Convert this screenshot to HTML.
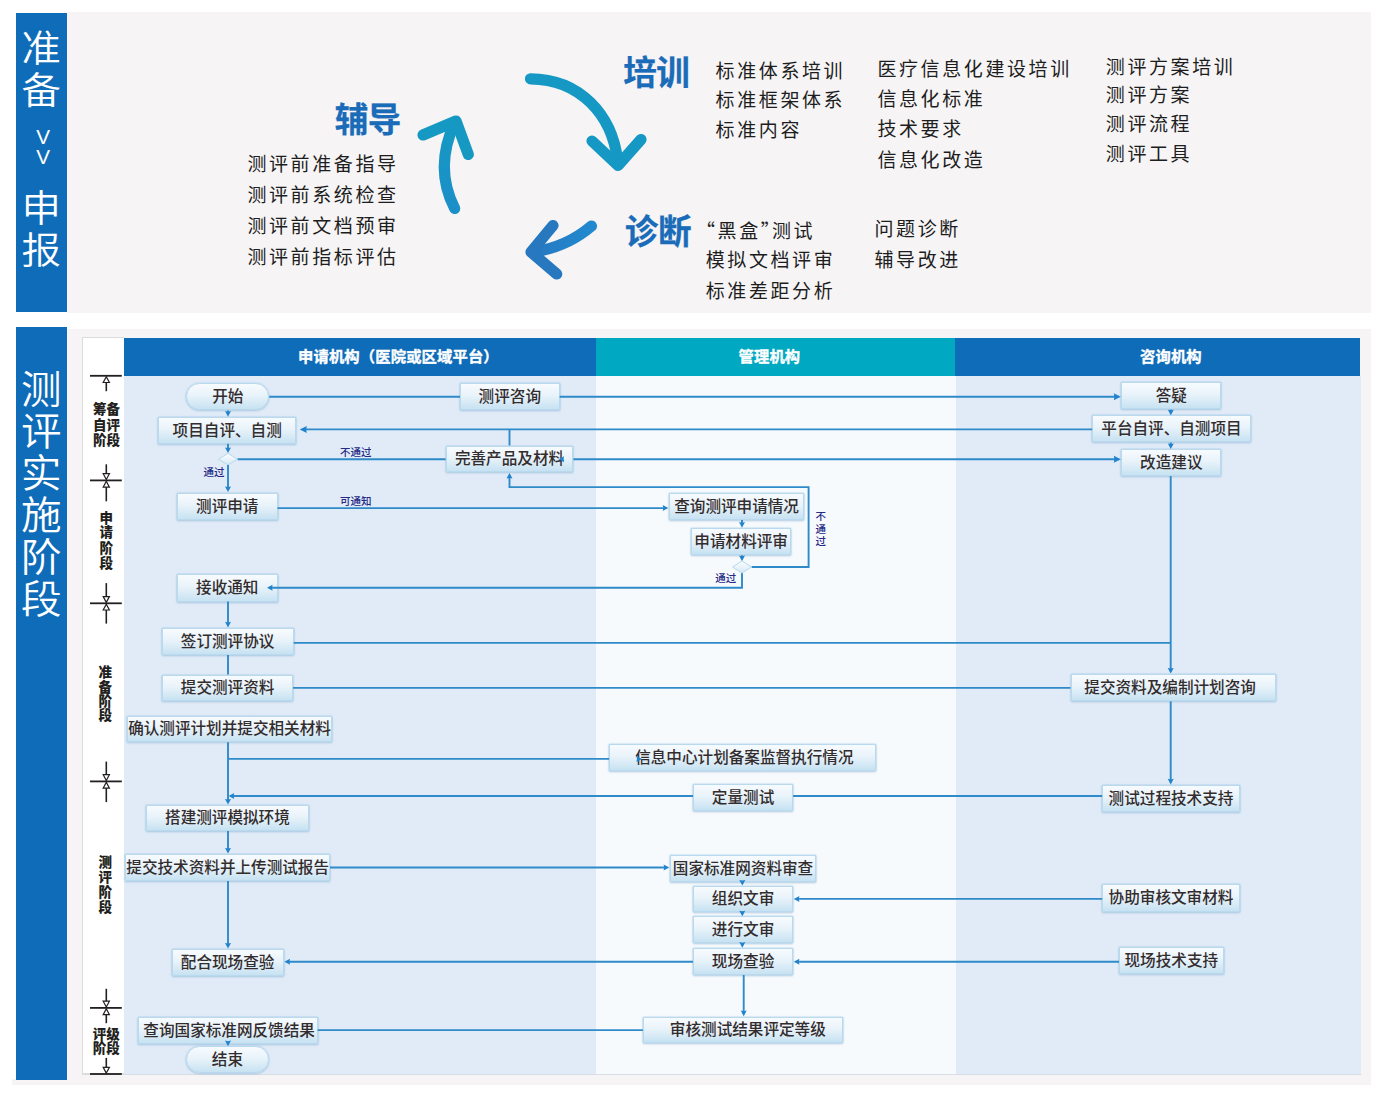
<!DOCTYPE html>
<html lang="zh"><head><meta charset="utf-8"><title>测评实施阶段</title>
<style>
html,body{margin:0;padding:0;background:#fff;}
body{width:1390px;height:1111px;position:relative;overflow:hidden;font-family:"Liberation Sans","Noto Sans CJK SC",sans-serif;color:#332c2d;}
.abs{position:absolute;}
.side{position:absolute;left:16px;width:50.5px;background:#0f6cb9;color:#fff;font-weight:350;text-align:center;}
.side span{position:absolute;left:0;width:50.5px;text-align:center;font-size:39px;line-height:40px;transform:scaleX(1.06);}
.panel{position:absolute;left:66.5px;width:1304.5px;background:#f6f4f5;}
.h{position:absolute;font-weight:700;font-size:33.6px;line-height:34px;color:#1a6cb8;white-space:nowrap;letter-spacing:-0.4px;-webkit-text-stroke:0.25px #1a6cb8;}
.t{position:absolute;margin-top:0.8px;font-size:19px;line-height:20px;letter-spacing:2.6px;white-space:nowrap;font-weight:400;color:#1d1d1d;}
.lanehd{position:absolute;top:337.5px;height:38.3px;}
.lt{position:absolute;top:346.3px;color:#fff;font-weight:700;font-size:15.3px;line-height:22px;white-space:nowrap;-webkit-text-stroke:0.35px #fff;letter-spacing:0.15px;}
.lane{position:absolute;top:375.8px;height:697.8px;}
.n{position:absolute;box-sizing:border-box;border:1px solid #b9daee;background:linear-gradient(180deg,#f7fbfe 0%,#e9f3fa 45%,#c7e2f2 100%);box-shadow:0 0 1.5px rgba(150,195,225,.9),0 1px 2px rgba(120,160,200,.4);font-size:15.6px;font-weight:500;text-align:center;white-space:nowrap;color:#332c2d;display:flex;align-items:center;justify-content:center;padding-bottom:3.2px;}
.n.pill{border-radius:14px;}
.ph{position:absolute;font-weight:900;font-size:13.5px;color:#231f20;text-align:center;white-space:nowrap;}
.sm{position:absolute;font-size:10.5px;font-weight:500;line-height:12px;color:#262a86;white-space:nowrap;}
svg{position:absolute;left:0;top:0;}
</style></head><body>

<div class="panel" style="top:12px;height:300.6px;"></div>
<div class="side" style="top:13px;height:299px;">
<span style="top:15.5px;font-size:37.2px">准</span>
<span style="top:57.5px;font-size:37.2px">备</span>
<span style="top:176px;font-size:37.2px">申</span>
<span style="top:218px;font-size:37.2px">报</span>
<span style="top:113.5px;left:2px;font-size:19.5px;line-height:20px;font-weight:400">V</span><span style="top:133.5px;left:2px;font-size:19.5px;line-height:20px;font-weight:400">V</span>
</div>
<div class="h" style="left:334.7px;top:103.6px;">辅导</div>
<div class="h" style="left:623.2px;top:56.6px;">培训</div>
<div class="h" style="left:624.8px;top:216px;">诊断</div>
<div class="t" style="left:247.4px;top:154.2px;">测评前准备指导</div>
<div class="t" style="left:247.4px;top:185.5px;">测评前系统检查</div>
<div class="t" style="left:247.4px;top:216.3px;">测评前文档预审</div>
<div class="t" style="left:247.4px;top:247.2px;">测评前指标评估</div>
<div class="t" style="left:715.6px;top:61.2px;">标准体系培训</div>
<div class="t" style="left:715.6px;top:90.5px;">标准框架体系</div>
<div class="t" style="left:715.6px;top:120.6px;">标准内容</div>
<div class="t" style="left:877.4px;top:59.3px;">医疗信息化建设培训</div>
<div class="t" style="left:877.4px;top:89.6px;">信息化标准</div>
<div class="t" style="left:877.4px;top:119.4px;">技术要求</div>
<div class="t" style="left:877.4px;top:149.9px;">信息化改造</div>
<div class="t" style="left:1105.8px;top:57.3px;">测评方案培训</div>
<div class="t" style="left:1105.8px;top:85.7px;">测评方案</div>
<div class="t" style="left:1105.8px;top:114.7px;">测评流程</div>
<div class="t" style="left:1105.8px;top:144.7px;">测评工具</div>
<div class="t" style="left:696px;top:218.8px;font-family:'Noto Sans CJK SC',sans-serif;">“黑盒<span style="margin-right:-10.5px">”</span>测试</div>
<div class="t" style="left:705.7px;top:250.6px;">模拟文档评审</div>
<div class="t" style="left:705.7px;top:281.2px;">标准差距分析</div>
<div class="t" style="left:874.5px;top:218.8px;">问题诊断</div>
<div class="t" style="left:874.5px;top:250.6px;">辅导改进</div>
<svg width="1390" height="330" viewBox="0 0 1390 330">
<defs>
<linearGradient id="g2" x1="0" y1="0" x2="0" y2="1"><stop offset="0" stop-color="#1599c3"/><stop offset="1" stop-color="#1c8fc8"/></linearGradient>
<linearGradient id="g3" x1="1" y1="0" x2="0" y2="0"><stop offset="0" stop-color="#2189cf"/><stop offset="1" stop-color="#2878c0"/></linearGradient>
</defs>
<g fill="none" stroke-linecap="round" stroke-linejoin="round" stroke-width="11.2">
<path d="M530.5,78.8 C580,79 612,115 617.5,160" stroke="#1598c4"/>
<path d="M592,141 L618,165.5 L641,139.5" stroke="#1598c4"/>
<path d="M454.7,208.5 C440,180 442,150 455,122" stroke="url(#g2)"/>
<path d="M423,135 L456,121 L468.3,154.5" stroke="#1599c3"/>
<path d="M591.5,226 C575,240 555,249 533,252" stroke="url(#g3)"/>
<path d="M553,225.5 L531,252 L556.7,274" stroke="#2878c0"/>
</g></svg>
<div class="panel" style="top:329px;height:756px;"></div><div class="abs" style="left:12px;top:1079px;width:56px;height:6px;background:#f6f4f5;"></div>
<div class="side" style="top:327px;height:753px;">
<span style="top:43.3px;font-size:38.3px">测</span>
<span style="top:85.2px;font-size:38.3px">评</span>
<span style="top:127.1px;font-size:38.3px">实</span>
<span style="top:169px;font-size:38.3px">施</span>
<span style="top:210.9px;font-size:38.3px">阶</span>
<span style="top:252.8px;font-size:38.3px">段</span>
</div>
<div class="abs" style="left:82px;top:337px;width:42px;height:737px;background:#fff;border:1px solid #dcdcdc;border-right:none;box-sizing:border-box;"></div>
<div class="lanehd" style="left:124px;width:471.5px;background:#0f6cb9;"></div><div class="lt" style="left:298px;">申请机构（医院或区域平台）</div>
<div class="lanehd" style="left:595.5px;width:359.5px;background:#00a9c1;"></div>
<div class="lanehd" style="left:955px;width:405px;background:#0f6cb9;"></div><div class="lt" style="left:738.5px;">管理机构</div><div class="lt" style="left:1140px;">咨询机构</div>
<div class="lane" style="left:124px;width:471.5px;background:#e0ebf7;"></div>
<div class="lane" style="left:595.5px;width:360.5px;background:#f6fafd;"></div>
<div class="lane" style="left:956px;width:404.5px;background:#e0ebf7;"></div>
<div class="abs" style="left:82px;top:1073.5px;width:1278.5px;height:1px;background:#d6dde5;"></div>
<div class="ph" style="left:86.4px;top:403.4px;width:40px;line-height:14px;">筹备</div>
<div class="ph" style="left:86.4px;top:418.8px;width:40px;line-height:14px;">自评</div>
<div class="ph" style="left:86.4px;top:434.2px;width:40px;line-height:14px;">阶段</div>
<div class="ph" style="left:86.3px;top:511.5px;width:40px;line-height:14px;">申</div>
<div class="ph" style="left:86.3px;top:526.4px;width:40px;line-height:14px;">请</div>
<div class="ph" style="left:86.3px;top:541.6px;width:40px;line-height:14px;">阶</div>
<div class="ph" style="left:86.3px;top:556.6px;width:40px;line-height:14px;">段</div>
<div class="ph" style="left:85.2px;top:666.1px;width:40px;line-height:14px;">准</div>
<div class="ph" style="left:85.2px;top:680.5px;width:40px;line-height:14px;">备</div>
<div class="ph" style="left:85.2px;top:694.9px;width:40px;line-height:14px;">阶</div>
<div class="ph" style="left:85.2px;top:709.4px;width:40px;line-height:14px;">段</div>
<div class="ph" style="left:85.2px;top:856.2px;width:40px;line-height:14px;">测</div>
<div class="ph" style="left:85.2px;top:871px;width:40px;line-height:14px;">评</div>
<div class="ph" style="left:85.2px;top:885.6px;width:40px;line-height:14px;">阶</div>
<div class="ph" style="left:85.2px;top:901.1px;width:40px;line-height:14px;">段</div>
<div class="ph" style="left:86.3px;top:1028.1px;width:40px;line-height:14px;">评级</div>
<div class="ph" style="left:86.3px;top:1042.4px;width:40px;line-height:14px;">阶段</div>
<div class="n pill" style="left:186.3px;top:383.3px;width:82.9px;height:27.2px;">开始</div>
<div class="n" style="left:460.0px;top:383.3px;width:99.6px;height:27.2px;">测评咨询</div>
<div class="n" style="left:158.0px;top:416.7px;width:138.4px;height:27.1px;">项目自评、自测</div>
<div class="n" style="left:445.6px;top:445.5px;width:127.8px;height:26.9px;">完善产品及材料</div>
<div class="n" style="left:177.0px;top:492.5px;width:100.5px;height:27.6px;">测评申请</div>
<div class="n" style="left:177.0px;top:574.3px;width:100.5px;height:27.3px;">接收通知</div>
<div class="n" style="left:161.5px;top:627.6px;width:132.2px;height:27.3px;">签订测评协议</div>
<div class="n" style="left:162.2px;top:674.6px;width:130.8px;height:26.9px;">提交测评资料</div>
<div class="n" style="left:126.6px;top:715.7px;width:205.8px;height:26.6px;">确认测评计划并提交相关材料</div>
<div class="n" style="left:145.6px;top:804.8px;width:163.7px;height:26.2px;">搭建测评模拟环境</div>
<div class="n" style="left:125.4px;top:853.8px;width:204.6px;height:27.3px;">提交技术资料并上传测试报告</div>
<div class="n" style="left:171.5px;top:948.8px;width:112.2px;height:27.6px;">配合现场查验</div>
<div class="n" style="left:137.7px;top:1016.8px;width:179.9px;height:26.9px;padding-left:3px;">查询国家标准网反馈结果</div>
<div class="n pill" style="left:185.7px;top:1046.2px;width:83.5px;height:27.2px;">结束</div>
<div class="n" style="left:669.1px;top:492.5px;width:135.0px;height:27.6px;">查询测评申请情况</div>
<div class="n" style="left:690.9px;top:527.7px;width:100.5px;height:27.6px;">申请材料评审</div>
<div class="n" style="left:609.1px;top:744.4px;width:266.5px;height:26.9px;padding-left:4px;">信息中心计划备案监督执行情况</div>
<div class="n" style="left:693.0px;top:783.7px;width:100.1px;height:27.3px;">定量测试</div>
<div class="n" style="left:669.8px;top:854.5px;width:146.4px;height:27.6px;">国家标准网资料审查</div>
<div class="n" style="left:693.0px;top:885.6px;width:100.1px;height:26.9px;">组织文审</div>
<div class="n" style="left:693.0px;top:916.3px;width:100.1px;height:27.0px;">进行文审</div>
<div class="n" style="left:693.0px;top:947.7px;width:100.1px;height:27.3px;">现场查验</div>
<div class="n" style="left:642.9px;top:1016.5px;width:199.9px;height:26.9px;padding-left:10px;">审核测试结果评定等级</div>
<div class="n" style="left:1121.3px;top:382.3px;width:100.0px;height:27.2px;">答疑</div>
<div class="n" style="left:1092.2px;top:415.3px;width:158.6px;height:27.2px;">平台自评、自测项目</div>
<div class="n" style="left:1121.3px;top:449.0px;width:100.0px;height:27.1px;">改造建议</div>
<div class="n" style="left:1070.5px;top:673.8px;width:205.2px;height:27.6px;padding-right:6px;">提交资料及编制计划咨询</div>
<div class="n" style="left:1102.2px;top:784.6px;width:137.6px;height:27.5px;">测试过程技术支持</div>
<div class="n" style="left:1102.2px;top:884.4px;width:137.6px;height:27.2px;">协助审核文审材料</div>
<div class="n" style="left:1119.0px;top:947.2px;width:104.6px;height:27.2px;">现场技术支持</div>
<div class="sm" style="left:340px;top:445.5px;">不通过</div>
<div class="sm" style="left:203.5px;top:466.3px;">通过</div>
<div class="sm" style="left:340px;top:495px;">可通知</div>
<div class="sm" style="left:715.3px;top:572.1px;">通过</div>
<div class="sm" style="left:815.5px;top:510.3px;line-height:12.6px;width:11px;white-space:normal;">不通过</div>
<svg width="1390" height="1111" viewBox="0 0 1390 1111"><defs><linearGradient id="dg" x1="0" y1="0" x2="0" y2="1"><stop offset="0" stop-color="#ffffff"/><stop offset="1" stop-color="#d3e8f5"/></linearGradient></defs>
<polyline points="269.2,396.7 460.0,396.7" fill="none" stroke="#2e8ac8" stroke-width="1.9"/>
<polyline points="559.6,396.7 1118.8,396.7" fill="none" stroke="#2e8ac8" stroke-width="1.9"/>
<polygon points="1120.8,396.7 1113.8,393.2 1114.4,396.7 1113.8,400.2" fill="#2283cd"/>
<polyline points="1092.2,429.4 301.8,429.4" fill="none" stroke="#2e8ac8" stroke-width="1.9"/>
<polygon points="299.8,429.4 306.8,425.9 306.2,429.4 306.8,432.9" fill="#2283cd"/>
<polyline points="509.5,429.4 509.5,445.5" fill="none" stroke="#2e8ac8" stroke-width="1.9"/>
<polyline points="237.4,459.3 445.6,459.3" fill="none" stroke="#2e8ac8" stroke-width="1.9"/>
<polyline points="573.4,459.3 1118.8,459.3" fill="none" stroke="#2e8ac8" stroke-width="1.9"/>
<polygon points="1120.8,459.3 1113.8,455.8 1114.4,459.3 1113.8,462.8" fill="#2283cd"/>
<polyline points="228.0,464.0 228.0,490.0" fill="none" stroke="#2e8ac8" stroke-width="1.9"/>
<polygon points="228.0,492.0 225.0,486.4 228.0,487.0 231.0,486.4" fill="#2283cd"/>
<polyline points="277.5,508.1 666.3,508.1" fill="none" stroke="#2e8ac8" stroke-width="1.9"/>
<polygon points="668.3,508.1 662.7,505.1 663.3,508.1 662.7,511.1" fill="#2283cd"/>
<polyline points="751.6,567.0 808.6,567.0 808.6,487.1 509.5,487.1 509.5,475.0" fill="none" stroke="#2e8ac8" stroke-width="1.9"/>
<polygon points="509.5,473.0 506.5,478.6 509.5,478.0 512.5,478.6" fill="#2283cd"/>
<polyline points="742.0,520.1 742.0,525.7" fill="none" stroke="#2e8ac8" stroke-width="1.9"/>
<polygon points="742.0,527.7 739.0,522.1 742.0,522.7 745.0,522.1" fill="#2283cd"/>
<polyline points="742.0,555.3 742.0,559.2" fill="none" stroke="#2e8ac8" stroke-width="1.9"/>
<polygon points="742.0,561.2 739.0,555.6 742.0,556.2 745.0,555.6" fill="#2283cd"/>
<polyline points="742.0,573.0 742.0,587.8 269.0,587.8" fill="none" stroke="#2e8ac8" stroke-width="1.9"/>
<polygon points="267.0,587.8 272.6,584.8 272.0,587.8 272.6,590.8" fill="#2283cd"/>
<polyline points="228.0,601.6 228.0,625.4" fill="none" stroke="#2e8ac8" stroke-width="1.9"/>
<polygon points="228.0,627.4 225.0,621.8 228.0,622.4 231.0,621.8" fill="#2283cd"/>
<polyline points="228.0,654.9 228.0,674.6" fill="none" stroke="#2e8ac8" stroke-width="1.9"/>
<polyline points="293.7,642.9 1170.7,642.9" fill="none" stroke="#2e8ac8" stroke-width="1.9"/>
<polyline points="293.0,687.9 1070.5,687.9" fill="none" stroke="#2e8ac8" stroke-width="1.9"/>
<polyline points="1170.7,476.1 1170.7,671.6" fill="none" stroke="#2e8ac8" stroke-width="1.9"/>
<polygon points="1170.7,673.6 1167.7,668.0 1170.7,668.6 1173.7,668.0" fill="#2283cd"/>
<polyline points="1170.7,701.4 1170.7,782.4" fill="none" stroke="#2e8ac8" stroke-width="1.9"/>
<polygon points="1170.7,784.4 1167.7,778.8 1170.7,779.4 1173.7,778.8" fill="#2283cd"/>
<polyline points="228.0,742.3 228.0,802.6" fill="none" stroke="#2e8ac8" stroke-width="1.9"/>
<polygon points="228.0,804.6 225.0,799.0 228.0,799.6 231.0,799.0" fill="#2283cd"/>
<polyline points="228.0,758.9 609.1,758.9" fill="none" stroke="#2e8ac8" stroke-width="1.9"/>
<polyline points="1102.2,796.0 793.1,796.0" fill="none" stroke="#2e8ac8" stroke-width="1.9"/>
<polyline points="693.0,796.0 230.6,796.0" fill="none" stroke="#2e8ac8" stroke-width="1.9"/>
<polygon points="228.6,796.0 234.2,793.0 233.6,796.0 234.2,799.0" fill="#2283cd"/>
<polyline points="228.0,831.0 228.0,851.6" fill="none" stroke="#2e8ac8" stroke-width="1.9"/>
<polygon points="228.0,853.6 225.0,848.0 228.0,848.6 231.0,848.0" fill="#2283cd"/>
<polyline points="330.0,867.5 667.2,867.5" fill="none" stroke="#2e8ac8" stroke-width="1.9"/>
<polygon points="669.2,867.5 663.6,864.5 664.2,867.5 663.6,870.5" fill="#2283cd"/>
<polyline points="228.0,881.1 228.0,946.6" fill="none" stroke="#2e8ac8" stroke-width="1.9"/>
<polygon points="228.0,948.6 225.0,943.0 228.0,943.6 231.0,943.0" fill="#2283cd"/>
<polyline points="1102.2,898.9 795.8,898.9" fill="none" stroke="#2e8ac8" stroke-width="1.9"/>
<polygon points="793.8,898.9 799.4,895.9 798.8,898.9 799.4,901.9" fill="#2283cd"/>
<polyline points="1119.0,961.7 795.8,961.7" fill="none" stroke="#2e8ac8" stroke-width="1.9"/>
<polygon points="793.8,961.7 799.4,958.7 798.8,961.7 799.4,964.7" fill="#2283cd"/>
<polyline points="693.0,961.7 286.4,961.7" fill="none" stroke="#2e8ac8" stroke-width="1.9"/>
<polygon points="284.4,961.7 290.0,958.7 289.4,961.7 290.0,964.7" fill="#2283cd"/>
<polyline points="742.3,882.1 742.3,883.6" fill="none" stroke="#2e8ac8" stroke-width="1.9"/>
<polygon points="742.3,885.6 739.3,880.0 742.3,880.6 745.3,880.0" fill="#2283cd"/>
<polyline points="742.3,912.5 742.3,914.3" fill="none" stroke="#2e8ac8" stroke-width="1.9"/>
<polygon points="742.3,916.3 739.3,910.7 742.3,911.3 745.3,910.7" fill="#2283cd"/>
<polyline points="742.3,943.3 742.3,945.7" fill="none" stroke="#2e8ac8" stroke-width="1.9"/>
<polygon points="742.3,947.7 739.3,942.1 742.3,942.7 745.3,942.1" fill="#2283cd"/>
<polyline points="743.7,975.0 743.7,1014.2" fill="none" stroke="#2e8ac8" stroke-width="1.9"/>
<polygon points="743.7,1016.2 740.7,1010.6 743.7,1011.2 746.7,1010.6" fill="#2283cd"/>
<polyline points="642.9,1030.1 317.6,1030.1" fill="none" stroke="#2e8ac8" stroke-width="1.9"/>
<polyline points="228.0,1043.7 228.0,1044.2" fill="none" stroke="#2e8ac8" stroke-width="1.9"/>
<polygon points="228.0,1046.2 225.0,1040.6 228.0,1041.2 231.0,1040.6" fill="#2283cd"/>
<polyline points="1170.8,409.5 1170.8,413.3" fill="none" stroke="#2e8ac8" stroke-width="1.9"/>
<polygon points="1170.8,415.3 1167.8,409.7 1170.8,410.3 1173.8,409.7" fill="#2283cd"/>
<polyline points="1170.8,442.5 1170.8,447.0" fill="none" stroke="#2e8ac8" stroke-width="1.9"/>
<polygon points="1170.8,449.0 1167.8,443.4 1170.8,444.0 1173.8,443.4" fill="#2283cd"/>
<polyline points="228.0,410.5 228.0,414.7" fill="none" stroke="#2e8ac8" stroke-width="1.9"/>
<polygon points="228.0,416.7 225.0,411.1 228.0,411.7 231.0,411.1" fill="#2283cd"/>
<polyline points="228.0,443.8 228.0,451.0" fill="none" stroke="#2e8ac8" stroke-width="1.9"/>
<polygon points="228.0,453.0 225.0,447.4 228.0,448.0 231.0,447.4" fill="#2283cd"/>
<polygon points="558.5,459.3 564.1,456.3 563.5,459.3 564.1,462.3" fill="#2283cd"/>
<polygon points="642.0,758.9 636.4,755.9 637.0,758.9 636.4,761.9" fill="#2283cd"/>
<polygon points="218.5,459.2 228.0,453.4 237.5,459.2 228.0,464.9" fill="url(#dg)" stroke="#b8d9ee" stroke-width="1"/>
<polygon points="732.5,567.0 742.0,561.0 751.5,567.0 742.0,573.0" fill="url(#dg)" stroke="#b8d9ee" stroke-width="1"/>
<line x1="90" y1="375.8" x2="121.8" y2="375.8" stroke="#231f20" stroke-width="1.8"/>
<polygon points="106.3,376.7 103.2,382.5 109.4,382.5" fill="#fff" stroke="#231f20" stroke-width="1.2" stroke-linejoin="miter"/><line x1="106.3" y1="382.5" x2="106.3" y2="391.2" stroke="#231f20" stroke-width="1.6"/>
<line x1="90" y1="480.4" x2="121.8" y2="480.4" stroke="#231f20" stroke-width="1.8"/>
<polygon points="106.3,479.5 103.2,473.7 109.4,473.7" fill="#fff" stroke="#231f20" stroke-width="1.2" stroke-linejoin="miter"/><line x1="106.3" y1="473.7" x2="106.3" y2="464.3" stroke="#231f20" stroke-width="1.6"/>
<polygon points="106.3,481.3 103.2,487.1 109.4,487.1" fill="#fff" stroke="#231f20" stroke-width="1.2" stroke-linejoin="miter"/><line x1="106.3" y1="487.1" x2="106.3" y2="501.3" stroke="#231f20" stroke-width="1.6"/>
<line x1="90" y1="603.3" x2="121.8" y2="603.3" stroke="#231f20" stroke-width="1.8"/>
<polygon points="106.3,602.4 103.2,596.6 109.4,596.6" fill="#fff" stroke="#231f20" stroke-width="1.2" stroke-linejoin="miter"/><line x1="106.3" y1="596.6" x2="106.3" y2="583.1" stroke="#231f20" stroke-width="1.6"/>
<polygon points="106.3,604.2 103.2,610.0 109.4,610.0" fill="#fff" stroke="#231f20" stroke-width="1.2" stroke-linejoin="miter"/><line x1="106.3" y1="610.0" x2="106.3" y2="623.6" stroke="#231f20" stroke-width="1.6"/>
<line x1="90" y1="781.4" x2="121.8" y2="781.4" stroke="#231f20" stroke-width="1.8"/>
<polygon points="106.3,780.5 103.2,774.7 109.4,774.7" fill="#fff" stroke="#231f20" stroke-width="1.2" stroke-linejoin="miter"/><line x1="106.3" y1="774.7" x2="106.3" y2="761.6" stroke="#231f20" stroke-width="1.6"/>
<polygon points="106.3,782.3 103.2,788.1 109.4,788.1" fill="#fff" stroke="#231f20" stroke-width="1.2" stroke-linejoin="miter"/><line x1="106.3" y1="788.1" x2="106.3" y2="802.1" stroke="#231f20" stroke-width="1.6"/>
<line x1="90" y1="1007.9" x2="121.8" y2="1007.9" stroke="#231f20" stroke-width="1.8"/>
<polygon points="106.3,1007.0 103.2,1001.2 109.4,1001.2" fill="#fff" stroke="#231f20" stroke-width="1.2" stroke-linejoin="miter"/><line x1="106.3" y1="1001.2" x2="106.3" y2="988.8" stroke="#231f20" stroke-width="1.6"/>
<polygon points="106.3,1008.8 103.2,1014.6 109.4,1014.6" fill="#fff" stroke="#231f20" stroke-width="1.2" stroke-linejoin="miter"/><line x1="106.3" y1="1014.6" x2="106.3" y2="1023.2" stroke="#231f20" stroke-width="1.6"/>
<line x1="90" y1="1074.0" x2="121.8" y2="1074.0" stroke="#231f20" stroke-width="1.8"/>
<polygon points="106.3,1073.1 103.2,1067.3 109.4,1067.3" fill="#fff" stroke="#231f20" stroke-width="1.2" stroke-linejoin="miter"/><line x1="106.3" y1="1067.3" x2="106.3" y2="1057.9" stroke="#231f20" stroke-width="1.6"/>
</svg>
</body></html>
